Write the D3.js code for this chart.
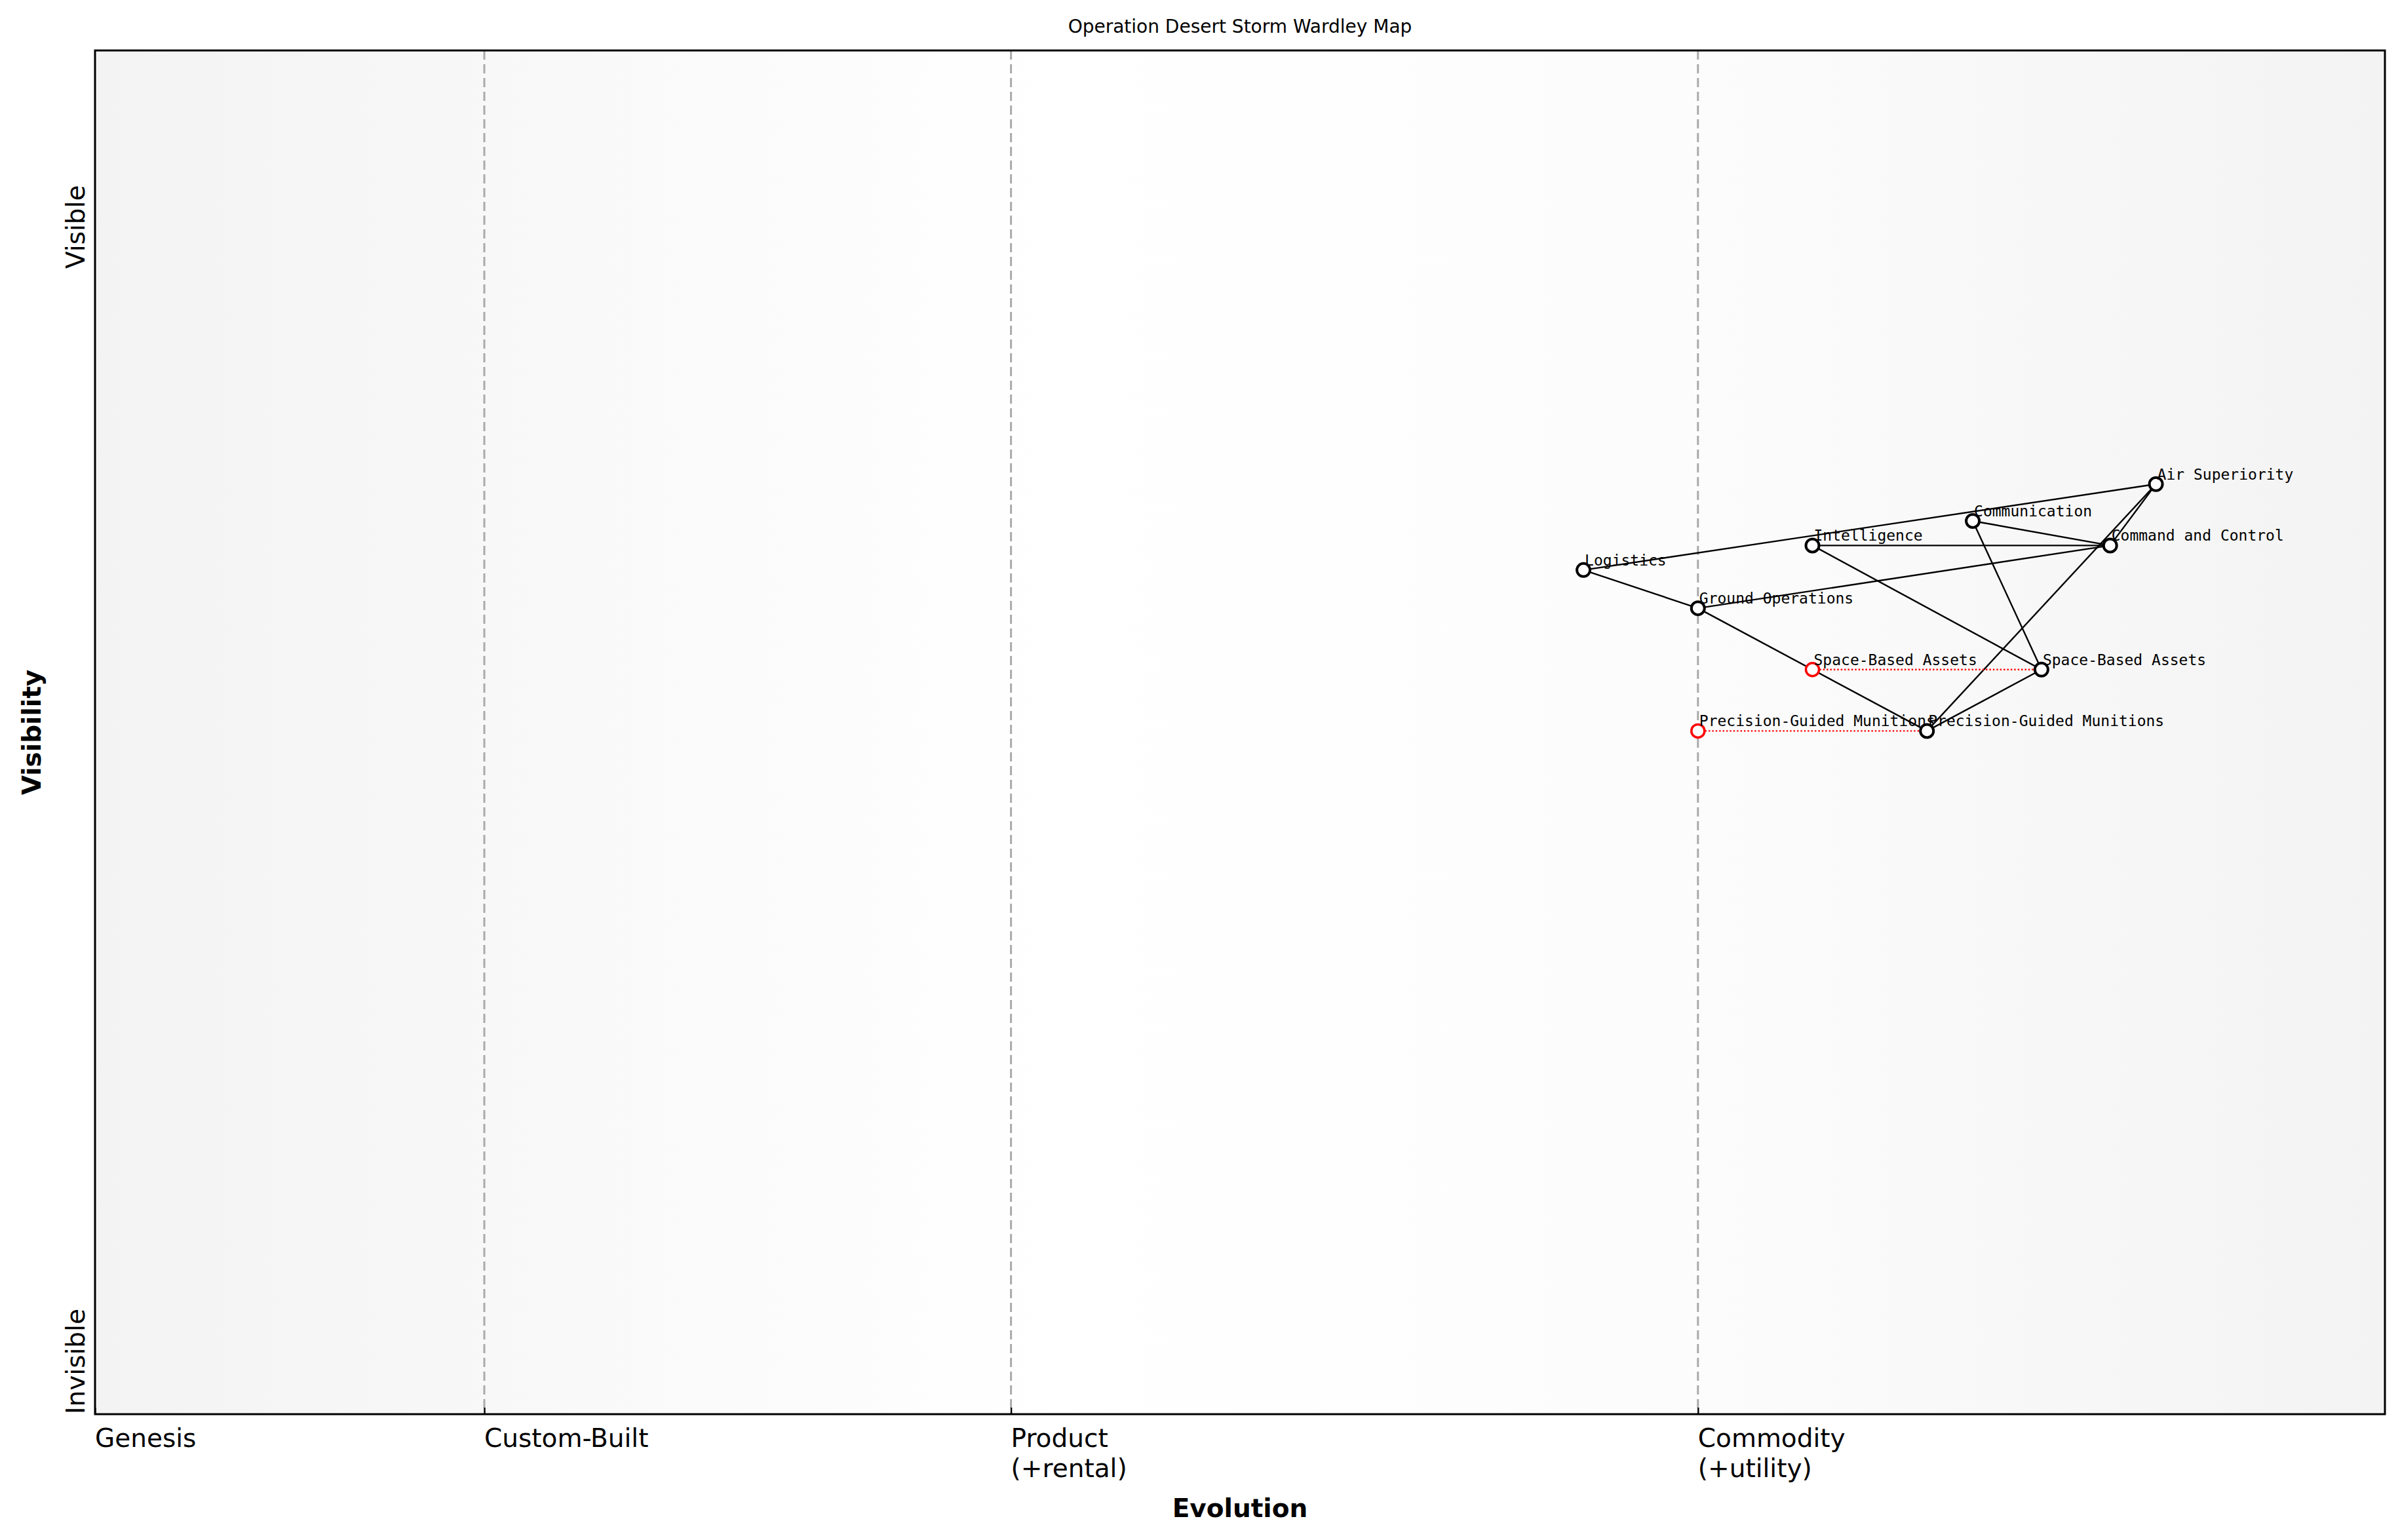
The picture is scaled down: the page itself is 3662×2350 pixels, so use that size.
<!DOCTYPE html>
<html><head><meta charset="utf-8">
<script src="https://cdn.jsdelivr.net/npm/d3@7"></script>
<style>body{margin:0;background:#fff}</style></head>
<body><svg id="c" width="3662" height="2350"></svg>
<script>
const stageNames = ["Genesis","Custom-Built","Product\n(+rental)","Commodity\n(+utility)"];
const stagePositions = [0, 0.17, 0.40, 0.70];
const yTickNames = ["Invisible","Visible"];
const yTickValues = [0, 0.84];
const compNames = ["Air Superiority","Communication","Command and Control","Intelligence","Logistics","Ground Operations","Space-Based Assets","Precision-Guided Munitions"];
const compEvolution = [0.90,0.82,0.88,0.75,0.65,0.70,0.85,0.80];
const compVisibility = [0.682,0.655,0.637,0.637,0.619,0.591,0.546,0.501];
const links = [["Logistics","Air Superiority"],["Logistics","Ground Operations"],["Ground Operations","Command and Control"],["Ground Operations","Precision-Guided Munitions"],["Intelligence","Command and Control"],["Intelligence","Space-Based Assets"],["Communication","Command and Control"],["Communication","Space-Based Assets"],["Air Superiority","Command and Control"],["Air Superiority","Precision-Guided Munitions"],["Space-Based Assets","Precision-Guided Munitions"]];
const evoNames = ["Space-Based Assets","Precision-Guided Munitions"];
const evoFrom = [0.75,0.70];

const svg = d3.select("#c");
const L=145,R=3639,T=77,B=2158;
const x = d3.scaleLinear().domain([0,1]).range([L,R]);
const y = d3.scaleLinear().domain([0,1]).range([B,T]);

const defs = svg.append("defs");
const g = defs.append("linearGradient").attr("id","bg");
[[0,"#f3f3f3"],[0.42,"#ffffff"],[0.7,"#fcfcfc"],[1,"#f3f3f3"]].forEach(s=>g.append("stop").attr("offset",s[0]).attr("stop-color",s[1]));
svg.append("rect").attr("x",L).attr("y",T).attr("width",R-L).attr("height",B-T).attr("fill","url(#bg)");

stagePositions.slice(1).forEach(p=>svg.append("line").attr("x1",x(p)).attr("x2",x(p)).attr("y1",T).attr("y2",B)
  .attr("stroke","#aaa").attr("stroke-width",3).attr("stroke-dasharray","14,7"));

const idx = n=>compNames.indexOf(n);
links.forEach(([a,b])=>svg.append("line").attr("x1",x(compEvolution[idx(a)])).attr("y1",y(compVisibility[idx(a)]))
  .attr("x2",x(compEvolution[idx(b)])).attr("y2",y(compVisibility[idx(b)])).attr("stroke","#000").attr("stroke-width",2.4));

evoNames.forEach((n,i)=>{
  const yy=y(compVisibility[idx(n)]);
  svg.append("line").attr("x1",x(evoFrom[i])).attr("x2",x(compEvolution[idx(n)])).attr("y1",yy).attr("y2",yy)
    .attr("stroke","red").attr("stroke-width",2.4).attr("stroke-dasharray","2.4,3");
});
const mono="'DejaVu Sans Mono',monospace";
evoNames.forEach((n,i)=>{
  const xx=x(evoFrom[i]), yy=y(compVisibility[idx(n)]);
  svg.append("circle").attr("cx",xx).attr("cy",yy).attr("r",10).attr("fill","#fff").attr("stroke","red").attr("stroke-width",3.5);
  svg.append("text").attr("x",xx+2).attr("y",yy-7).attr("font-family",mono).attr("font-size",23).text(n);
});
compNames.forEach((n,i)=>{
  const xx=x(compEvolution[i]), yy=y(compVisibility[i]);
  svg.append("circle").attr("cx",xx).attr("cy",yy).attr("r",10).attr("fill","#fff").attr("stroke","#000").attr("stroke-width",4);
  svg.append("text").attr("x",xx+2).attr("y",yy-7).attr("font-family",mono).attr("font-size",23).text(n);
});

svg.append("rect").attr("x",L).attr("y",T).attr("width",R-L).attr("height",B-T).attr("fill","none").attr("stroke","#000").attr("stroke-width",3);

const sans="'DejaVu Sans',sans-serif";
const xa = svg.append("g").attr("transform",`translate(0,${B})`).call(d3.axisBottom(x).tickValues(stagePositions).tickSize(-10).tickFormat(""));
xa.select(".domain").remove();
xa.selectAll("line").attr("stroke","#000").attr("stroke-width",2.4);
stagePositions.forEach((p,i)=>{
  const t=svg.append("text").attr("x",x(p)).attr("y",B+50).attr("font-family",sans).attr("font-size",39);
  stageNames[i].split("\n").forEach((s,j)=>t.append("tspan").attr("x",x(p)).attr("dy",j?46:0).text(s));
});
yTickValues.forEach((v,i)=>svg.append("text").attr("transform",`translate(${L-16},${y(v)}) rotate(-90)`).attr("font-family",sans).attr("font-size",39).text(yTickNames[i]));

svg.append("text").attr("x",(L+R)/2).attr("y",2315).attr("text-anchor","middle").attr("font-family",sans).attr("font-weight","bold").attr("font-size",39).text("Evolution");
svg.append("text").attr("transform",`translate(62,${(T+B)/2}) rotate(-90)`).attr("text-anchor","middle").attr("font-family",sans).attr("font-weight","bold").attr("font-size",39).text("Visibility");
svg.append("text").attr("x",(L+R)/2).attr("y",50).attr("text-anchor","middle").attr("font-family",sans).attr("font-size",28).text("Operation Desert Storm Wardley Map");
</script></body></html>
